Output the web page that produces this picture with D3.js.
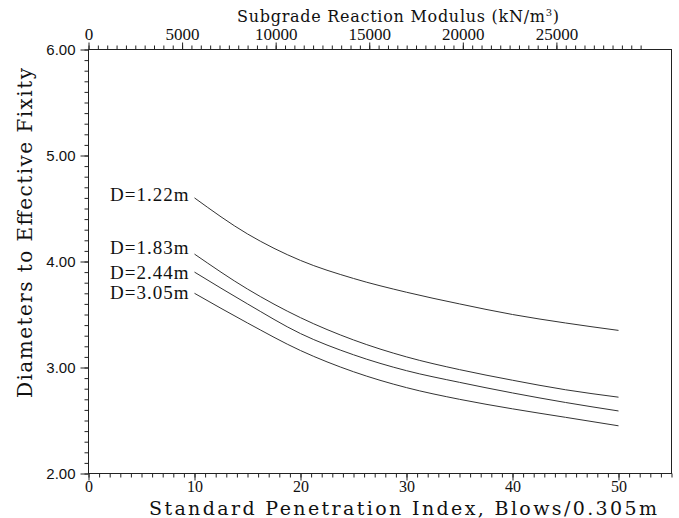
<!DOCTYPE html>
<html>
<head>
<meta charset="utf-8">
<script src="https://cdn.jsdelivr.net/npm/d3@7"></script>
<style>
body { margin: 0; background: #fff; }
svg { display: block; }
</style>
</head>
<body>
<script>
"use strict"
// data
const spt = [10, 15, 20, 25, 30, 35, 40, 45, 50];
const diameterLabels = ['D=1.22m', 'D=1.83m', 'D=2.44m', 'D=3.05m'];
const fixityD122 = [4.60, 4.26, 4.01, 3.84, 3.71, 3.60, 3.50, 3.42, 3.35];
const fixityD183 = [4.07, 3.74, 3.47, 3.26, 3.10, 2.98, 2.88, 2.79, 2.72];
const fixityD244 = [3.90, 3.60, 3.32, 3.12, 2.97, 2.86, 2.76, 2.67, 2.59];
const fixityD305 = [3.70, 3.42, 3.16, 2.96, 2.81, 2.70, 2.61, 2.53, 2.45];

const bottomTicks = [0, 10, 20, 30, 40, 50];
const leftTicks = [2, 3, 4, 5, 6];
const topTicks = [0, 5000, 10000, 15000, 20000, 25000];

const w = 679;
const h = 518;
const padLeft = 88.5, padRight = 671.5, padTop = 49.5, padBottom = 473.5;
// small vertical shifts (px) so the curve labels don't collide
const labelNudge = [-3, -6, 1, -1];

const svg = d3.select('body')
	.append('svg')
	.attr('width', w)
	.attr('height', h);

const xScale = d3.scaleLinear().domain([0, 55]).range([padLeft, padRight]);
const yScale = d3.scaleLinear().domain([2, 6]).range([padBottom, padTop]);
const kScale = d3.scaleLinear().domain([0, 31150]).range([padLeft, padRight]);

// frame
svg.append('rect')
	.attr('x', padLeft)
	.attr('y', padTop)
	.attr('width', padRight - padLeft)
	.attr('height', padBottom - padTop)
	.attr('fill', 'none')
	.attr('stroke', '#222')
	.attr('stroke-width', 1);

function styleAxis(g, font, size) {
	g.select('.domain').remove();
	g.selectAll('line').attr('stroke', '#222');
	g.selectAll('text')
		.attr('fill', '#111')
		.style('font-family', font)
		.style('font-size', size + 'px');
}

// bottom axis
svg.append('g')
	.attr('transform', 'translate(0,' + padBottom + ')')
	.call(d3.axisBottom(xScale).tickValues(d3.range(0, 56, 1)).tickSize(4).tickFormat(''))
	.call(g => styleAxis(g, 'Liberation Serif', 16));
svg.append('g')
	.attr('transform', 'translate(0,' + padBottom + ')')
	.call(d3.axisBottom(xScale).tickValues(bottomTicks).tickSize(7).tickPadding(0).tickFormat(d3.format('d')))
	.call(g => styleAxis(g, 'Liberation Serif', 16));

// left axis
svg.append('g')
	.attr('transform', 'translate(' + padLeft + ',0)')
	.call(d3.axisLeft(yScale).tickValues(d3.range(20, 61, 1).map(d => d / 10)).tickSize(4).tickFormat(''))
	.call(g => styleAxis(g, 'Liberation Sans', 15));
svg.append('g')
	.attr('transform', 'translate(' + padLeft + ',0)')
	.call(d3.axisLeft(yScale).tickValues(leftTicks).tickSize(8).tickPadding(5).tickFormat(d3.format('.2f')))
	.call(g => styleAxis(g, 'Liberation Sans', 15));

// top axis
svg.append('g')
	.attr('transform', 'translate(0,' + padTop + ')')
	.call(d3.axisTop(kScale).tickValues(d3.range(0, 30000, 500)).tickSize(4).tickFormat(''))
	.call(g => styleAxis(g, 'Liberation Serif', 17));
svg.append('g')
	.attr('transform', 'translate(0,' + padTop + ')')
	.call(d3.axisTop(kScale).tickValues(topTicks).tickSize(7).tickPadding(3).tickFormat(d3.format('d')))
	.call(g => styleAxis(g, 'Liberation Serif', 17));

// axis titles
svg.append('text')
	.attr('x', 398)
	.attr('y', 22)
	.attr('text-anchor', 'middle')
	.attr('textLength', 322)
	.attr('lengthAdjust', 'spacing')
	.style('font-family', 'DejaVu Serif')
	.style('font-size', '16px')
	.attr('fill', '#111')
	.html('Subgrade Reaction Modulus (kN/m<tspan dy="-6" font-size="10">3</tspan><tspan dy="6">)</tspan>');

svg.append('text')
	.attr('x', 403)
	.attr('y', 515)
	.attr('text-anchor', 'middle')
	.attr('textLength', 508)
	.attr('lengthAdjust', 'spacing')
	.style('font-family', 'DejaVu Serif')
	.style('font-size', '19px')
	.attr('fill', '#111')
	.text('Standard Penetration Index, Blows/0.305m');

svg.append('text')
	.attr('transform', 'translate(32,233) rotate(-90)')
	.attr('text-anchor', 'middle')
	.attr('textLength', 330)
	.attr('lengthAdjust', 'spacing')
	.style('font-family', 'DejaVu Serif')
	.style('font-size', '20px')
	.attr('fill', '#111')
	.text('Diameters to Effective Fixity');

// curves
const series = [fixityD122, fixityD183, fixityD244, fixityD305];

const line = d3.line()
	.x((d, i) => xScale(spt[i]))
	.y(d => yScale(d))
	.curve(d3.curveMonotoneX);

svg.selectAll('path.curve')
	.data(series)
	.enter()
	.append('path')
	.attr('class', 'curve')
	.attr('d', d => line(d))
	.attr('fill', 'none')
	.attr('stroke', '#333')
	.attr('stroke-width', 1);

svg.selectAll('text.label')
	.data(series)
	.enter()
	.append('text')
	.attr('class', 'label')
	.attr('x', xScale(spt[0]) - 5)
	.attr('y', (d, i) => yScale(d[0]) + labelNudge[i])
	.attr('dy', '0.33em')
	.attr('text-anchor', 'end')
	.style('font-family', 'Liberation Serif')
	.style('font-size', '19px')
	.style('letter-spacing', '1px')
	.attr('fill', '#111')
	.text((d, i) => diameterLabels[i]);
</script>
</body>
</html>
